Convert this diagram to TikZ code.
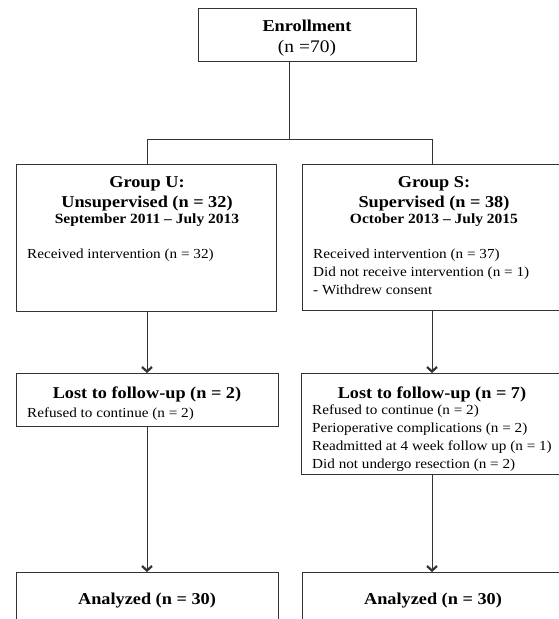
\documentclass[tikz,border=0pt]{standalone}
\usepackage{fontspec}
\setmainfont[FakeStretch=1.1]{Liberation Serif}
\usetikzlibrary{arrows.meta}
\begin{document}
\begin{tikzpicture}[x=1pt,y=-1pt,
  box/.style={draw=black!80, line width=1pt, inner sep=0pt, outer sep=0pt, anchor=north west},
  ttl/.style={font=\fontsize{16.6}{19}\selectfont\bfseries, anchor=base, inner sep=0pt},
  sub/.style={font=\fontsize{14.1}{16}\selectfont\bfseries, anchor=base, inner sep=0pt},
  num/.style={font=\fontsize{17.7}{20}\selectfont, anchor=base, inner sep=0pt},
  txt/.style={font=\fontsize{13.8}{18}\selectfont, anchor=base west, inner sep=0pt},
  conn/.style={draw=black!80, line width=1pt},
  arr/.style={conn, -{Straight Barb[length=4.5pt,width=10pt,line width=2.2pt]}}
]
\clip (0,0) rectangle (559,619);
\fill[white] (0,0) rectangle (559,619);

% boxes
\node[box, minimum width=218pt, minimum height=53pt] (enr) at (198,8) {};
\node[box, minimum width=260pt, minimum height=147pt] (gu) at (16,164) {};
\node[box, minimum width=268pt, minimum height=146pt] (gs) at (302,164) {};
\node[box, minimum width=262pt, minimum height=53pt] (lu) at (16,373) {};
\node[box, minimum width=270pt, minimum height=101pt] (ls) at (301,373) {};
\node[box, minimum width=262pt, minimum height=70pt] (au) at (16,572) {};
\node[box, minimum width=270pt, minimum height=70pt] (as) at (302,572) {};

% texts
\node[ttl] (enrT) at (307,31) {Enrollment};
\node[num] (enrN) at (307,52) {(n =70)};

\node[ttl] (guT1) at (147,187) {Group U:};
\node[ttl] (guT2) at (147,207) {Unsupervised (n = 32)};
\node[sub] (guD) at (147,223) {September 2011 – July 2013};
\node[txt] (guL1) at (27,258) {Received intervention (n = 32)};

\node[ttl] (gsT1) at (434,187) {Group S:};
\node[ttl] (gsT2) at (434,207) {Supervised (n = 38)};
\node[sub] (gsD) at (434,223) {October 2013 – July 2015};
\node[txt] (gsL1) at (313,258) {Received intervention (n = 37)};
\node[txt] (gsL2) at (313,276) {Did not receive intervention (n = 1)};
\node[txt] (gsL3) at (313,294) {- Withdrew consent};

\node[ttl] (luT) at (147,398) {Lost to follow-up (n = 2)};
\node[txt] (luL1) at (27,417) {Refused to continue (n = 2)};

\node[ttl] (lsT) at (432,398) {Lost to follow-up (n = 7)};
\node[txt] (lsL1) at (312,414) {Refused to continue (n = 2)};
\node[txt] (lsL2) at (312,432) {Perioperative complications (n = 2)};
\node[txt] (lsL3) at (312,450) {Readmitted at 4 week follow up (n = 1)};
\node[txt] (lsL4) at (312,468) {Did not undergo resection (n = 2)};

\node[ttl] (auT) at (147,604) {Analyzed (n = 30)};
\node[ttl] (asT) at (433,604) {Analyzed (n = 30)};

% connectors
\coordinate (j) at (289,139);
\coordinate (jl) at (147,139);
\coordinate (jr) at (432,139);
\draw[conn] (enr.south -| j) -- (j);
\draw[conn] (jl) -- (jr);
\draw[conn] (jl) -- (jl |- gu.north);
\draw[conn] (jr) -- (jr |- gs.north);
\draw[arr] (gu.south -| jl) -- (lu.north -| jl);
\draw[arr] (gs.south -| jr) -- (ls.north -| jr);
\draw[arr] (lu.south -| jl) -- (au.north -| jl);
\draw[arr] (ls.south -| jr) -- (as.north -| jr);
\end{tikzpicture}
\end{document}
